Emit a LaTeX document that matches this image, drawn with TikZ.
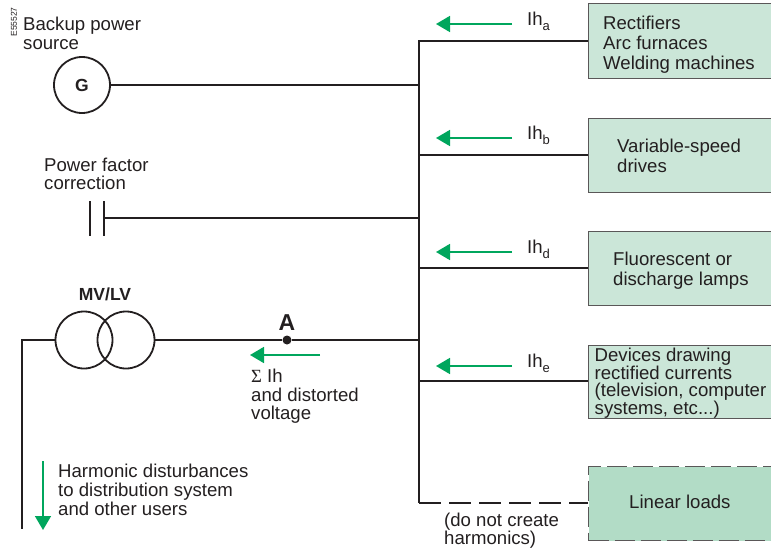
\documentclass[tikz,border=0pt]{standalone}
\usepackage{fontspec}
\setmainfont{Liberation Sans}
\newfontfamily\serifgreek{Liberation Serif}
\usetikzlibrary{arrows.meta}
\definecolor{ink}{HTML}{231F20}
\definecolor{grn}{HTML}{00A65D}
\definecolor{boxfill}{HTML}{CBE6D8}
\definecolor{linfill}{HTML}{B2DCC6}
\newcommand{\Ihsub}[1]{Ih\raisebox{-5.5pt}{\fontsize{13}{13}\selectfont #1}}
\tikzset{
  x=1pt,y=-1pt,
  every node/.style={text=ink,font=\fontsize{18.6}{19.5}\selectfont},
  wire/.style={draw=ink,line width=2pt},
  dwire/.style={draw=ink,line width=2pt,dash pattern=on 22pt off 8pt},
  thin wire/.style={draw=ink,line width=1.7pt},
  load/.style={draw=ink!75,line width=1.3pt,fill=boxfill,anchor=north west,inner sep=0pt},
  linload/.style={load,fill=linfill,dash pattern=on 20pt off 6pt},
  sym/.style={circle,draw=ink,line width=1.8pt,inner sep=0pt,minimum size=57pt},
  txt/.style={anchor=north west,align=left,inner sep=0pt},
  garrow/.style={draw=grn,line width=1.8pt,-{Triangle[length=14pt,width=16pt]}},
  garrowb/.style={draw=grn,line width=1.6pt,-{Triangle[length=14pt,width=16pt]}},
}
\begin{document}
\begin{tikzpicture}
\useasboundingbox (0,0) rectangle (771,549);
% loads
\node[load,minimum width=190pt,minimum height=75pt] (la) at (588,3) {};
\node[load,minimum width=190pt,minimum height=74pt] (lb) at (588,118) {};
\node[load,minimum width=190pt,minimum height=74pt] (ld) at (588,231) {};
\node[load,minimum width=190pt,minimum height=73pt] (le) at (588,345) {};
\node[linload,minimum width=190pt,minimum height=74pt] (ll) at (588,466) {};
% bus
\coordinate (bustop) at (419,41);
\coordinate (busbot) at (419,503);
\draw[wire,line join=miter] (la.west |- 0,41) -- (bustop) -- (busbot);
\draw[wire] (bustop |- 0,155) -- (lb.west |- 0,155);
\draw[wire] (bustop |- 0,268) -- (ld.west |- 0,268);
\draw[wire] (bustop |- 0,381) -- (le.west |- 0,381);
\draw[dwire] (busbot) -- (ll.west |- 0,503);
% generator
\node[sym,minimum size=56pt,font=\fontsize{17.5}{18}\selectfont\bfseries] (g) at (82,85) {G};
\draw[wire] (g.east) -- (bustop |- g.east);
% capacitor
\coordinate (capl1) at (90,201);
\coordinate (capl2) at (90,236);
\coordinate (capr1) at (104,201);
\coordinate (capr2) at (104,236);
\coordinate (capm) at (104,218);
\draw[thin wire] (capl1) -- (capl2);
\draw[thin wire] (capr1) -- (capr2);
\draw[wire] (capm) -- (bustop |- capm);
% transformer
\node[sym] (t1) at (84,340) {};
\node[sym] (t2) at (126,340) {};
\node[circle,fill=ink,inner sep=0pt,minimum size=9pt] (pa) at (287,340) {};
\draw[wire] (t2.east) -- (pa) -- (bustop |- pa);
\coordinate (corner) at (22,340);
\coordinate (feed) at (22,529);
\draw[wire] (t1.west) -- (corner) -- (feed);
% green arrows
\foreach \n/\yy in {a/24,b/138,d/252,e/366}{
  \coordinate (s\n) at (512,\yy);
  \coordinate (e\n) at (436,\yy);
  \draw[garrow] (s\n) -- (e\n);
}
\coordinate (sA) at (320,355);
\coordinate (eA) at (250,355);
\draw[garrow] (sA) -- (eA);
\coordinate (sD) at (43,461);
\coordinate (eD) at (43,530);
\draw[garrowb] (sD) -- (eD);
% labels
\node[txt,font=\fontsize{18.6}{19}\selectfont] (tbackup) at (23,17) {Backup power\\source};
\node[txt,font=\fontsize{18.6}{18.3}\selectfont] (tpf) at (44,158) {Power factor\\correction};
\node[font=\fontsize{17.5}{18}\selectfont\bfseries,anchor=base] (tmv) at (105,300) {MV/LV};
\node[font=\fontsize{23}{23}\selectfont\bfseries,anchor=base] (tA) at (287,330) {A};
\node[txt,font=\fontsize{18.6}{18.5}\selectfont] (tsum) at (251,369) {{\serifgreek Σ} Ih\\and distorted\\voltage};
\node[txt,font=\fontsize{18.6}{19}\selectfont] (tharm) at (58,464) {Harmonic disturbances\\to distribution system\\and other users};
\node[txt,anchor=base west] (iha) at (527,25) {\Ihsub{a}};
\node[txt,anchor=base west] (ihb) at (527,139) {\Ihsub{b}};
\node[txt,anchor=base west] (ihd) at (527,253) {\Ihsub{d}};
\node[txt,anchor=base west] (ihe) at (527,367) {\Ihsub{e}};
\node[txt,font=\fontsize{18.6}{20}\selectfont] (ta) at (603,16) {Rectifiers\\Arc furnaces\\Welding machines};
\node[txt,font=\fontsize{18.6}{20}\selectfont] (tb) at (617,139) {Variable-speed\\drives};
\node[txt,font=\fontsize{18.6}{20}\selectfont] (td) at (613,252) {Fluorescent or\\discharge lamps};
\node[txt,font=\fontsize{18.6}{17.6}\selectfont] (te) at (594.5,348) {Devices drawing\\rectified currents\\(television, computer\\systems, etc...)};
\node[txt] (tl) at (629,495) {Linear loads};
\node[txt,font=\fontsize{18.6}{17.5}\selectfont] (tdo) at (444,513) {(do not create\\harmonics)};
\node[rotate=90,font=\fontsize{8.5}{9}\selectfont,inner sep=0pt] (tcode) at (14,22) {E55527};
\end{tikzpicture}
\end{document}
